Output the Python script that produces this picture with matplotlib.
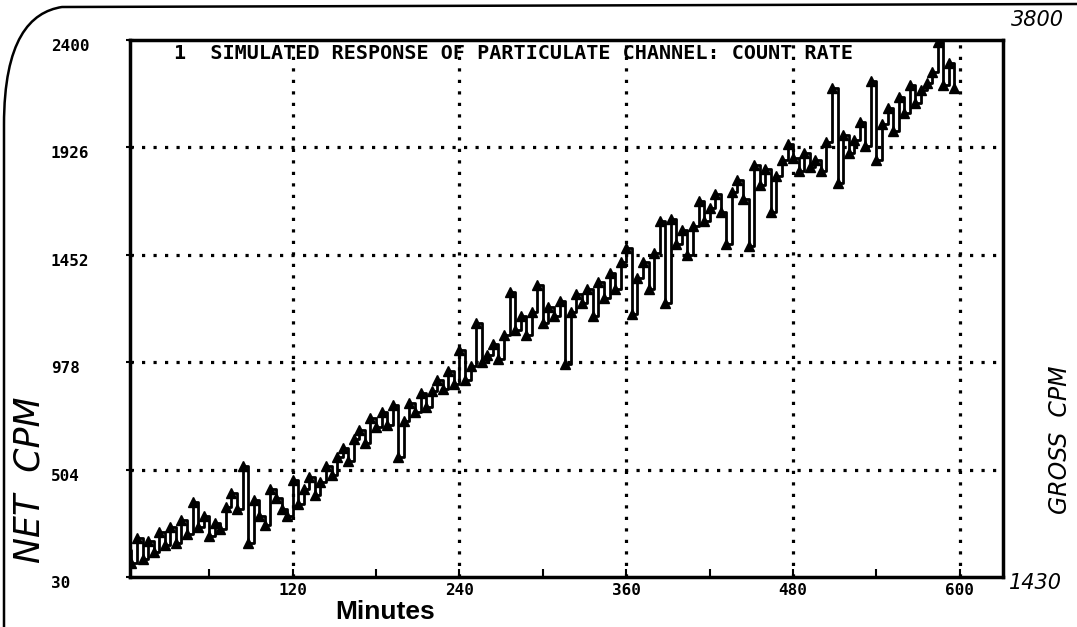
import matplotlib.pyplot as plt
from matplotlib.path import Path
from matplotlib.patches import PathPatch
import matplotlib.transforms as mtransforms

# minutes (one reading every 4 minutes)
minutes = list(range(0, 600, 4))

# net counts per minute
net_cpm = [
    150, 90, 200, 110, 190, 140, 230, 170, 250, 180,
    280, 220, 360, 250, 300, 210, 270, 240, 340, 400,
    330, 520, 180, 370, 300, 260, 420, 380, 330, 300,
    460, 350, 420, 470, 390, 450, 520, 480, 560, 600,
    540, 640, 680, 620, 730, 690, 760, 700, 790, 560,
    720, 800, 760, 840, 780, 850, 900, 860, 940, 880,
    1030, 900, 960, 1150, 980, 1010, 1060, 990, 1100, 1290,
    1120, 1180, 1100, 1200, 1320, 1150, 1220, 1180, 1250, 970,
    1200, 1280, 1240, 1300, 1180, 1330, 1260, 1370, 1300, 1420,
    1480, 1190, 1350, 1420, 1300, 1460, 1600, 1240, 1610, 1500,
    1560, 1450, 1580, 1690, 1600, 1660, 1720, 1640, 1500, 1730,
    1780, 1700, 1490, 1850, 1760, 1830, 1640, 1800, 1870, 1940,
    1880, 1820, 1900, 1840, 1870, 1820, 1950, 2190, 1770, 1980,
    1900, 1960, 2040, 1930, 2220, 1870, 2030, 2100, 2000, 2150,
    2080, 2200, 2120, 2180, 2210, 2260, 2390, 2200, 2300, 2190,
]

y_ticks = [30, 504, 978, 1452, 1926, 2400]
y_grid = [504, 978, 1452, 1926]
x_ticks = [120, 240, 360, 480, 600]
x_minor = [60, 180, 300, 420, 540]

mono = 'DejaVu Sans Mono'
hand = 'DejaVu Sans'

fig = plt.figure(figsize=(10.77, 6.27), dpi=100)
ax = fig.add_axes([130 / 1077, 1 - 577 / 627, 873 / 1077, 537 / 627])

ax.plot(minutes, net_cpm, drawstyle='steps-post', color='black', lw=2,
        marker='^', markersize=7, markerfacecolor='black',
        markeredgecolor='black', zorder=3)

ax.set_xlim(3, 631)
ax.set_ylim(30, 2400)

# dotted grid
dot = (0, (1, 2.6))
for gy in y_grid:
    ax.axhline(gy, color='black', lw=2.3, linestyle=dot, dash_capstyle='butt', zorder=1)
for gx in x_ticks:
    ax.axvline(gx, color='black', lw=2.3, linestyle=dot, dash_capstyle='butt', zorder=1)

for s in ax.spines.values():
    s.set_linewidth(2.5)

ax.set_xticks(x_ticks)
ax.set_xticklabels([str(v) for v in x_ticks], family=mono, fontweight='bold', fontsize=11.5)
ax.set_xticks(x_minor, minor=True)
ax.tick_params(axis='x', which='both', direction='in', length=6, width=1.5, pad=4)

ax.set_yticks(y_ticks)
ax.set_yticklabels([str(v) for v in y_ticks], family=mono, fontweight='bold',
                   fontsize=11.5, ha='left')
ax.tick_params(axis='y', direction='inout', length=6, width=1.5, pad=54)
offset = mtransforms.ScaledTranslation(0, -5 / 100, fig.dpi_scale_trans)
for lab in ax.get_yticklabels():
    lab.set_transform(lab.get_transform() + offset)

ax.text(0.05, 0.993, '1  SIMULATED RESPONSE OF PARTICULATE CHANNEL: COUNT RATE',
        transform=ax.transAxes, ha='left', va='top', family=mono,
        fontweight='bold', fontsize=14.5)

fig.text(385 / 1077, 1 - 612 / 627, 'Minutes', ha='center', va='center',
         family='Liberation Sans', fontweight='bold', fontsize=19)

# handwritten annotations
fig.text(1037 / 1077, 1 - 20 / 627, '3800', ha='center', va='center',
         family=hand, style='italic', fontsize=15, fontweight='light')
fig.text(1035 / 1077, 1 - 583 / 627, '1430', ha='center', va='center',
         family=hand, style='italic', fontsize=15, fontweight='light')
fig.text(30 / 1077, 1 - 480 / 627, 'NET  CPM', ha='center', va='center',
         rotation=90, family=hand, style='italic', fontsize=25, fontweight='light')
fig.text(1060 / 1077, 1 - 440 / 627, 'GROSS  CPM', ha='center', va='center',
         rotation=90, family=hand, style='italic', fontsize=17, fontweight='light')

# page edge of the scan
verts = [(4, 627), (4, 125), (4, 40), (30, 12), (62, 7), (1077, 4)]
codes = [Path.MOVETO, Path.LINETO, Path.CURVE4, Path.CURVE4, Path.CURVE4, Path.LINETO]
verts = [(x / 1077, 1 - y / 627) for x, y in verts]
fig.add_artist(PathPatch(Path(verts, codes), transform=fig.transFigure,
                         fill=False, lw=1.8, edgecolor='black'))

fig.savefig('out.png', dpi=100, facecolor='white')
